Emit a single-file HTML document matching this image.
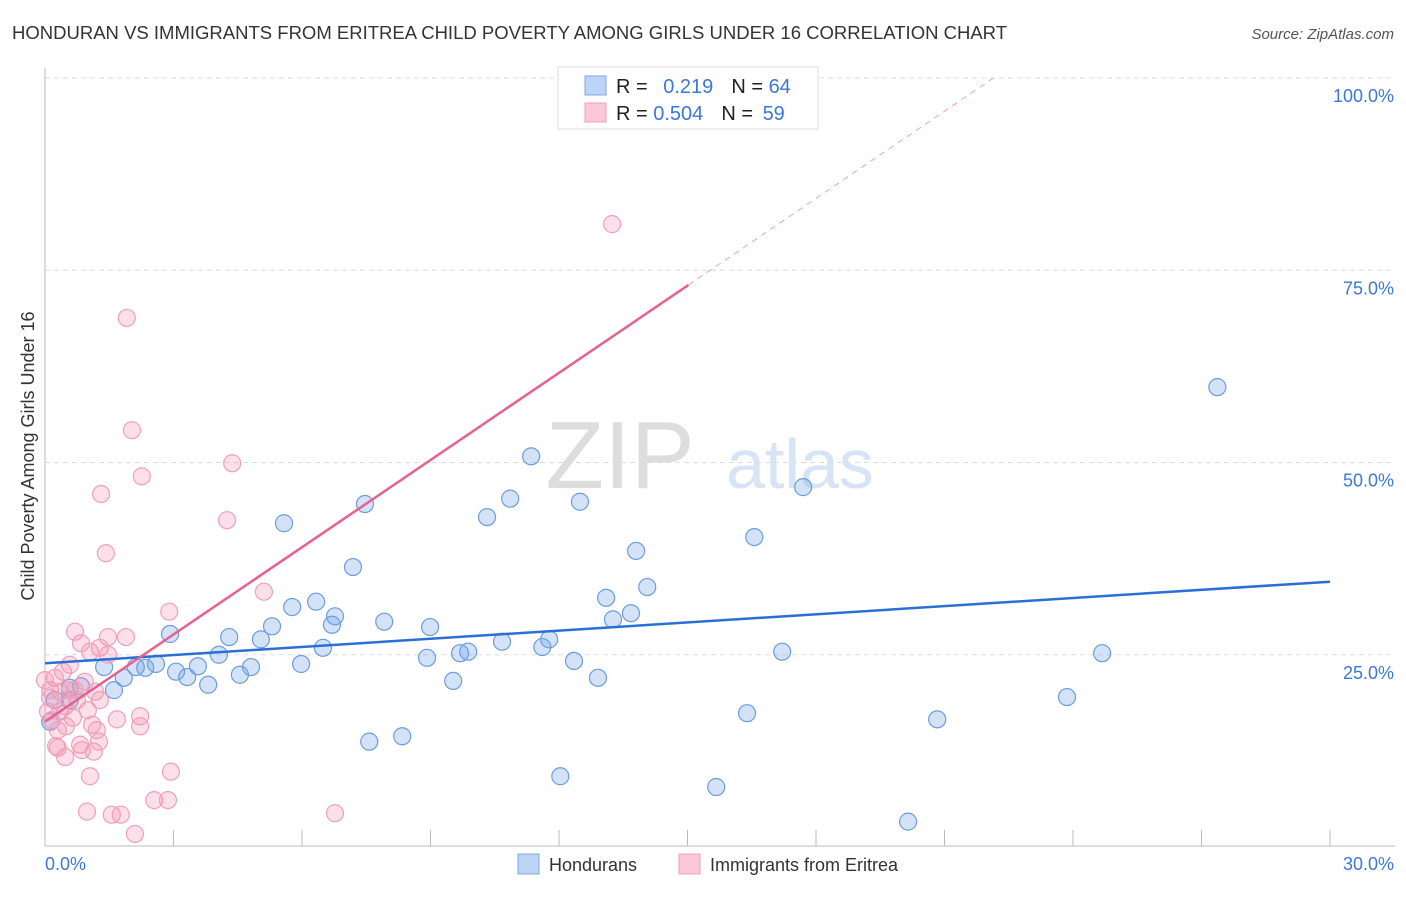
<!DOCTYPE html>
<html><head><meta charset="utf-8"><style>
body{margin:0;background:#fff;font-family:"Liberation Sans",sans-serif}
svg text{font-family:"Liberation Sans",sans-serif}
</style></head><body>
<svg id="chart" width="1406" height="892" viewBox="0 0 1406 892">
<text x="12" y="39" font-size="18" fill="#333" textLength="995" lengthAdjust="spacingAndGlyphs">HONDURAN VS IMMIGRANTS FROM ERITREA CHILD POVERTY AMONG GIRLS UNDER 16 CORRELATION CHART</text>
<text x="1394" y="39" font-size="15" fill="#555" font-style="italic" text-anchor="end">Source: ZipAtlas.com</text>
<text x="620" y="488" font-size="96" fill="#ddd" font-family="Liberation Serif" text-anchor="middle">ZIP</text>
<text x="800" y="488" font-size="70" fill="#d6e4f5" text-anchor="middle">atlas</text>
<g id="grid"></g>
<g id="axes"></g>
<g id="marks"></g>
<text transform="translate(34,456) rotate(-90)" font-size="18" fill="#333" text-anchor="middle">Child Poverty Among Girls Under 16</text>
<text x="45" y="870" font-size="18" fill="#3b78d8">0.0%</text>
<text x="1394" y="870" font-size="18" fill="#3b78d8" text-anchor="end">30.0%</text>
<g>
<rect x="558" y="67" width="260" height="62" fill="#fff" stroke="#ddd"/>
<rect x="585" y="76" width="21" height="19" fill="#bcd4f5" stroke="#7fa6e0"/>
<rect x="585" y="103" width="21" height="19" fill="#f9c9d7" stroke="#f0a0b8"/>
<text x="616" y="93" font-size="20" fill="#222">R = <tspan fill="#3b78d8" dx="10">0.219</tspan><tspan fill="#222" dx="18">N = </tspan><tspan fill="#3b78d8">64</tspan></text>
<text x="616" y="120" font-size="20" fill="#222">R = <tspan fill="#3b78d8">0.504</tspan><tspan fill="#222" dx="18">N = </tspan><tspan fill="#3b78d8" dx="4">59</tspan></text>
</g>
<g>
<rect x="518" y="854" width="21" height="20" fill="#bcd4f5" stroke="#7fa6e0"/>
<text x="549" y="871" font-size="18" fill="#333">Hondurans</text>
<rect x="679" y="854" width="21" height="20" fill="#f9c9d7" stroke="#f0a0b8"/>
<text x="710" y="871" font-size="18" fill="#333">Immigrants from Eritrea</text>
</g>
</svg>
<script>
const yTicks=[25,50,75,100];
const yTickLabels=["25.0%","50.0%","75.0%","100.0%"];
const xTicks=[0,3,6,9,12,15,18,21,24,27,30];
const hondX=[27.37,11.35,17.70,7.47,10.86,12.49,10.32,5.58,16.56,13.80,7.19,14.06,13.10,5.77,6.33,6.77,13.68,13.26,7.92,5.30,6.70,8.99,2.92,4.30,5.04,11.77,10.67,11.61,6.49,4.06,9.69,9.88,17.21,24.68,2.59,2.34,3.57,5.98,8.92,12.35,3.06,2.12,4.81,4.55,3.32,1.38,3.81,12.91,9.53,1.84,0.84,0.58,1.61,23.86,16.39,20.83,0.23,0.58,8.34,7.57,12.03,15.67,20.15,0.12];
const hondY=[59.8,50.8,46.8,44.6,45.3,44.9,42.9,42.1,40.3,38.5,36.4,33.8,32.4,31.2,31.9,30.0,30.4,29.6,29.3,28.7,28.9,28.6,27.7,27.3,27.0,27.0,26.7,26.0,25.9,25.0,25.2,25.4,25.4,25.2,23.8,23.3,23.5,23.8,24.6,24.2,22.8,23.4,23.4,22.4,22.1,23.4,21.1,22.0,21.6,22.0,20.9,20.7,20.4,19.5,17.4,16.6,19.1,19.1,14.4,13.7,9.2,7.8,3.3,16.3];
const eritX=[13.24,1.91,2.03,4.37,2.26,1.31,4.25,5.11,1.42,2.90,0.70,1.89,1.47,0.84,1.28,1.05,1.47,0.58,0.42,0.23,0.12,0.93,1.17,0.75,0.47,1.00,0.35,0.65,1.68,2.22,1.10,1.21,1.26,0.82,0.26,0.30,0.86,1.14,0.47,2.94,1.05,2.55,2.87,0.98,1.56,1.77,2.10,6.77,0.07,0.16,0.12,0.30,0.58,1.28,0.00,0.70,0.35,0.49,2.22];
const eritY=[81.0,68.8,54.2,49.9,48.2,45.9,42.5,33.2,38.2,30.6,28.0,27.3,27.3,26.5,25.9,25.4,25.0,23.7,22.8,22.0,20.4,21.5,20.2,19.1,18.3,17.8,17.6,16.8,16.6,17.0,15.9,15.2,13.7,13.3,13.1,12.9,12.6,12.4,11.7,9.8,9.2,6.1,6.1,4.6,4.2,4.2,1.7,4.4,17.6,16.5,19.4,15.2,20.4,19.1,21.7,20.4,20.2,15.7,15.7];
const hondTrend=[23.9,34.5];
const eritTrend=[16.3,3.78];
const NS="http://www.w3.org/2000/svg";
const X=v=>45+v/30*1285;
const Y=v=>847-v*7.69;
function mk(tag,attrs,parent){const e=document.createElementNS(NS,tag);for(const k in attrs)e.setAttribute(k,attrs[k]);parent.appendChild(e);return e;}
const grid=document.getElementById('grid'),axes=document.getElementById('axes'),marks=document.getElementById('marks');
yTicks.forEach((t,i)=>{
 const l=mk('line',{x1:45,x2:1395,y1:Y(t),y2:Y(t),stroke:'#ddd','stroke-dasharray':'5,4'},grid);
 
 
 const tx=mk('text',{x:1394,y:Y(t)+24,'font-size':18,fill:'#3b78d8','text-anchor':'end'},grid);
 tx.textContent=yTickLabels[i];
 
 
});
const ya=mk('line',{x1:45,x2:45,y1:68,y2:846,stroke:'#bbb'},axes);


const xa=mk('line',{x1:45,x2:1395,y1:846,y2:846,stroke:'#bbb'},axes);


xTicks.forEach(t=>{const l=mk('line',{x1:X(t),x2:X(t),y1:830,y2:846,stroke:'#bbb'},axes);
 
 });
hondX.forEach((x,i)=>{const c=mk('circle',{cx:X(x),cy:Y(hondY[i]),r:8.5,fill:'rgba(110,160,230,0.3)',stroke:'#6a9de0','stroke-width':1.2},marks);
 
 });
eritX.forEach((x,i)=>{const c=mk('circle',{cx:X(x),cy:Y(eritY[i]),r:8.5,fill:'rgba(245,150,180,0.3)',stroke:'#f0a0b8','stroke-width':1.2},marks);
 
 });
const bl=mk('line',{x1:X(0),y1:Y(hondTrend[0]),x2:X(30),y2:Y(hondTrend[1]),stroke:'#2a6fd6','stroke-width':2.5},marks);


const xEnd=15.02, xTop=(100-eritTrend[0])/eritTrend[1];
const pl=mk('line',{x1:X(0),y1:Y(eritTrend[0]),x2:X(xEnd),y2:Y(eritTrend[0]+eritTrend[1]*xEnd),stroke:'#e8608e','stroke-width':2.5},marks);


const pd=mk('line',{x1:X(xEnd),y1:Y(eritTrend[0]+eritTrend[1]*xEnd),x2:X(xTop),y2:Y(100),stroke:'#f0a0b8','stroke-width':1,'stroke-dasharray':'6,5'},marks);


</script>
</body></html>
